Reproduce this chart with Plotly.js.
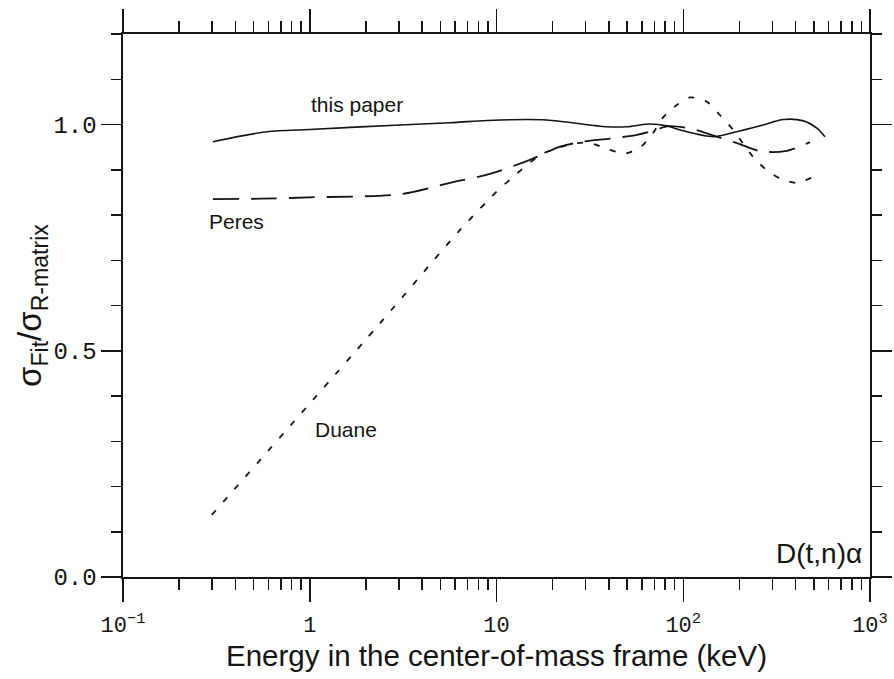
<!DOCTYPE html>
<html>
<head>
<meta charset="utf-8">
<script src="https://cdn.plot.ly/plotly-3.0.1.min.js"></script>
<style>
  html, body { margin: 0; padding: 0; background: #fff; }
  #chart { width: 894px; height: 679px; }
</style>
</head>
<body>
<div id="chart"></div>
<script>
// Ratio of fitted to R-matrix cross section for D(t,n)alpha, vs. c.m. energy (keV)
const thisPaperE     = [0.303, 0.590, 1.0, 3.04, 5.64, 10.4, 18.6, 38.9, 49.8, 66.4, 81.5, 100, 145, 193, 268, 344, 440, 519, 574];
const thisPaperRatio = [0.962, 0.984, 0.989, 0.999, 1.004, 1.010, 1.010, 0.995, 0.995, 1.001, 0.997, 0.986, 0.973, 0.984, 0.999, 1.011, 1.008, 0.992, 0.973];

const peresE     = [0.303, 0.542, 1.0, 3.04, 5.64, 9.23, 15.1, 21.9, 29.0, 40.5, 56.5, 68.9, 81.8, 109, 144, 194, 258, 351, 477];
const peresRatio = [0.835, 0.836, 0.839, 0.846, 0.871, 0.891, 0.922, 0.951, 0.962, 0.969, 0.977, 0.986, 0.996, 0.991, 0.976, 0.959, 0.941, 0.941, 0.961];

const duaneE     = [0.2985, 2.38, 6.38, 10.44, 12.06, 14.5, 17.7, 21.0, 25.8, 31.7, 39.1, 48.8, 59.4, 68.9, 77.4, 92.3, 109, 134, 157, 185, 209, 236, 280, 330, 405, 518];
const duaneRatio = [0.137, 0.561, 0.767, 0.859, 0.881, 0.910, 0.936, 0.947, 0.958, 0.959, 0.946, 0.936, 0.951, 0.981, 1.014, 1.043, 1.060, 1.050, 1.021, 0.988, 0.958, 0.929, 0.899, 0.881, 0.871, 0.888];

const xTickVals = [0.1, 1, 10, 100, 1000];
const xTickText = ['10<sup>\u22121</sup>', '1', '10', '10<sup>2</sup>', '10<sup>3</sup>'];

// minor ticks at 2..9 within each decade
const xMinorVals = [];
for (let d = -1; d < 3; d++) {
  for (let k = 2; k < 10; k++) xMinorVals.push(k * Math.pow(10, d));
}

const ink = '#141414';
const sans = 'Liberation Sans, Arial, sans-serif';
const mono = 'Liberation Mono, Courier New, monospace';
const labelFont = { family: sans, size: 21, color: ink };

const traces = [
  { x: thisPaperE, y: thisPaperRatio, mode: 'lines', name: 'this paper',
    line: { color: ink, width: 1.6, shape: 'spline', smoothing: 0.8 } },
  { x: peresE, y: peresRatio, mode: 'lines', name: 'Peres',
    line: { color: ink, width: 1.8, dash: '26px,12px', shape: 'spline', smoothing: 0.8 } },
  { x: duaneE, y: duaneRatio, mode: 'lines', name: 'Duane',
    line: { color: ink, width: 1.8, dash: '6px,11px', shape: 'spline', smoothing: 0.8 } }
];

const layout = {
  width: 894, height: 679,
  margin: { l: 123, r: 24, t: 34, b: 102 },
  paper_bgcolor: '#fff', plot_bgcolor: '#fff',
  showlegend: false,
  xaxis: {
    type: 'log', range: [-1, 3], autorange: false,
    tickmode: 'array', tickvals: xTickVals, ticktext: xTickText,
    ticks: 'outside', ticklen: 23, tickwidth: 1.5, tickcolor: ink,
    ticklabelstandoff: 4,
    showline: true, linecolor: ink, linewidth: 1.6, mirror: 'ticks',
    showgrid: false, zeroline: false,
    tickfont: { family: mono, size: 22, color: ink },
    minor: { tickmode: 'array', tickvals: xMinorVals, ticks: 'outside', ticklen: 11,
             tickwidth: 1.5, tickcolor: ink, showgrid: false },
    title: { text: 'Energy in the center-of-mass frame (keV)',
             font: { family: sans, size: 29.5, color: ink }, standoff: 2 },
    automargin: false
  },
  yaxis: {
    range: [0, 1.2], autorange: false,
    tickmode: 'linear', tick0: 0, dtick: 0.5, tickformat: '.1f',
    ticks: 'outside', ticklen: 20, tickwidth: 1.5, tickcolor: ink,
    showline: true, linecolor: ink, linewidth: 1.6, mirror: 'ticks',
    showgrid: false, zeroline: false,
    tickfont: { family: mono, size: 24, color: ink },
    minor: { dtick: 0.1, ticks: 'outside', ticklen: 10, tickwidth: 1.5, tickcolor: ink, showgrid: false },
    title: { text: '\u03c3<sub>Fit</sub>/\u03c3<sub>R-matrix</sub>',
             font: { family: sans, size: 33, color: ink }, standoff: 0 },
    automargin: false
  },
  annotations: [
    { x: Math.log10(1.80), y: 1.045, xref: 'x', yref: 'y', text: 'this paper',
      showarrow: false, font: labelFont },
    { x: Math.log10(0.405), y: 0.785, xref: 'x', yref: 'y', text: 'Peres',
      showarrow: false, font: labelFont },
    { x: Math.log10(1.563), y: 0.325, xref: 'x', yref: 'y', text: 'Duane',
      showarrow: false, font: labelFont },
    { x: 1, y: 0.053, xref: 'paper', yref: 'y', xanchor: 'right', xshift: -6,
      text: 'D(t,n)\u03b1', showarrow: false,
      font: { family: sans, size: 28, color: ink } }
  ]
};

Plotly.newPlot('chart', traces, layout, { staticPlot: true, displayModeBar: false });
</script>
</body>
</html>
